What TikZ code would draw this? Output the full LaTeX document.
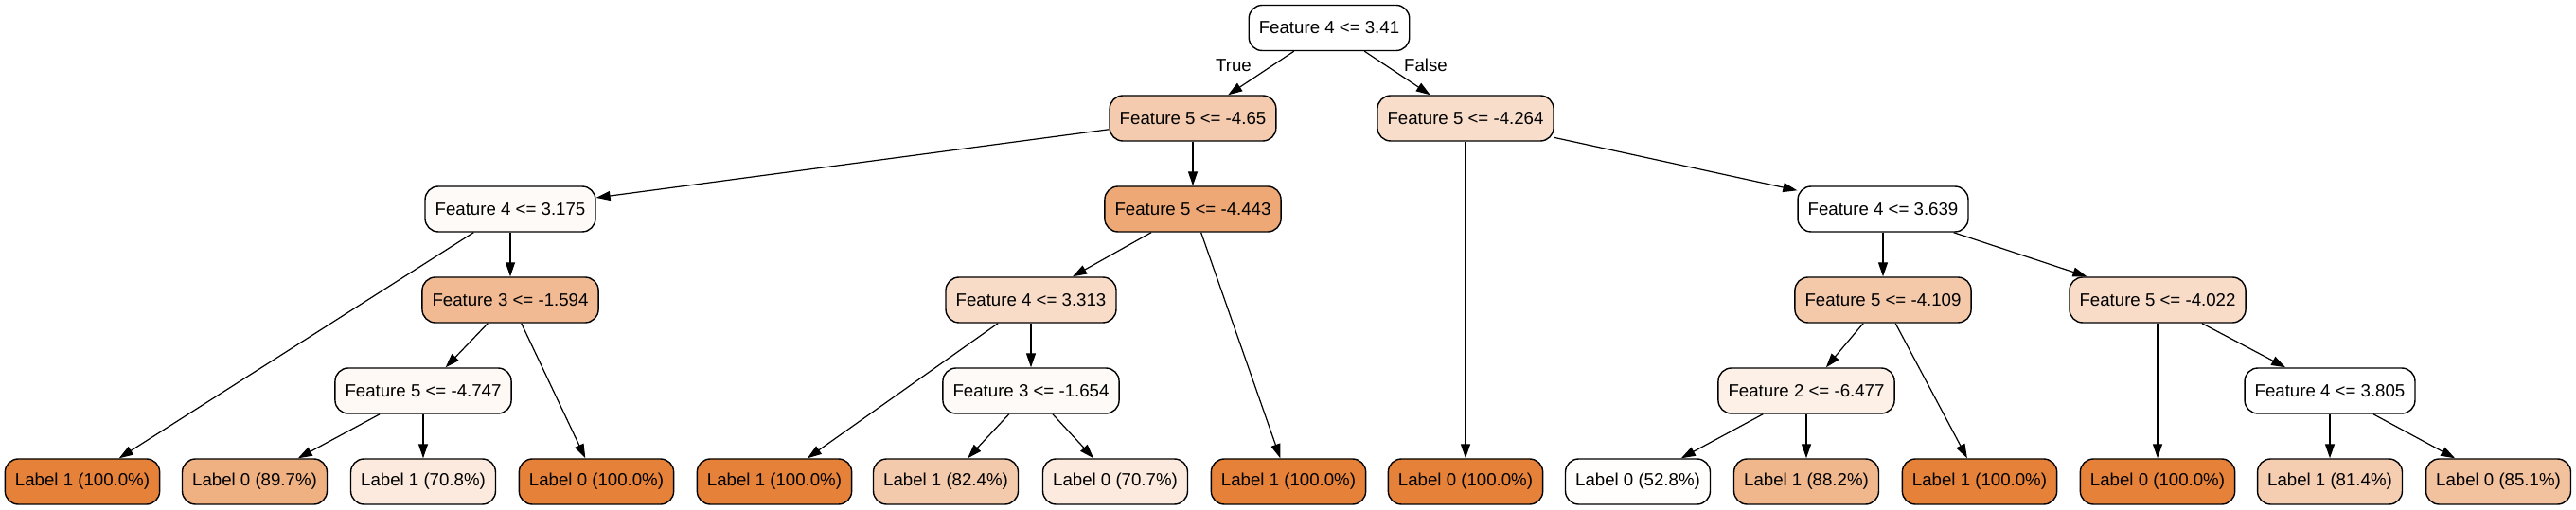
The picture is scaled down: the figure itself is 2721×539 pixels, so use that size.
\documentclass[tikz,border=0pt]{standalone}
\usepackage{fontspec}
\setmainfont{Liberation Sans}
\usetikzlibrary{arrows.meta}
\definecolor{org}{HTML}{E58139}
\tikzset{
 tn/.style={draw=black, line width=0.7pt, rounded corners=7pt, minimum height=24pt, inner xsep=5.3pt, inner ysep=0pt, font=\fontsize{9.33}{11}\selectfont, fill=org!#1!white},
 ed/.style={-{Triangle[length=7.5pt,width=5pt]}, line width=0.6pt},
 elab/.style={font=\fontsize{9.33}{11}\selectfont, inner sep=0pt}
}
\begin{document}
\begin{tikzpicture}[x=0.5pt,y=-0.5pt]
\useasboundingbox (0,0) rectangle (2721,539);
% internal nodes
\node[tn=0]  (r)   at (1404,29.5) {Feature 4 <= 3.41};
\node[tn=41] (n1)  at (1260,125) {Feature 5 <= -4.65};
\node[tn=27] (n2)  at (1548,125) {Feature 5 <= -4.264};
\node[tn=4]  (n3)  at (539,221) {Feature 4 <= 3.175};
\node[tn=69] (n4)  at (1260,221) {Feature 5 <= -4.443};
\node[tn=0]  (n5)  at (1989,221) {Feature 4 <= 3.639};
\node[tn=55] (n6)  at (539,317) {Feature 3 <= -1.594};
\node[tn=28] (n7)  at (1089,317) {Feature 4 <= 3.313};
\node[tn=43] (n8)  at (1989,317) {Feature 5 <= -4.109};
\node[tn=28] (n9)  at (2279,317) {Feature 5 <= -4.022};
\node[tn=5]  (n10) at (447,413) {Feature 5 <= -4.747};
\node[tn=4]  (n11) at (1089,413) {Feature 3 <= -1.654};
\node[tn=12] (n12) at (1908,413) {Feature 2 <= -6.477};
\node[tn=0]  (n13) at (2461,413) {Feature 4 <= 3.805};
% leaves
\node[tn=100] (L1)  at (87,509)   {Label 1 (100.0\%)};
\node[tn=63]  (L2)  at (269,509)  {Label 0 (89.7\%)};
\node[tn=17]  (L3)  at (447,509)  {Label 1 (70.8\%)};
\node[tn=100] (L4)  at (630,509)  {Label 0 (100.0\%)};
\node[tn=100] (L5)  at (818,509)  {Label 1 (100.0\%)};
\node[tn=42]  (L6)  at (999,509)  {Label 1 (82.4\%)};
\node[tn=17]  (L7)  at (1178,509) {Label 0 (70.7\%)};
\node[tn=100] (L8)  at (1361,509) {Label 1 (100.0\%)};
\node[tn=100] (L9)  at (1548,509) {Label 0 (100.0\%)};
\node[tn=1]   (L10) at (1730,509) {Label 0 (52.8\%)};
\node[tn=58]  (L11) at (1908,509) {Label 1 (88.2\%)};
\node[tn=100] (L12) at (2091,509) {Label 1 (100.0\%)};
\node[tn=100] (L13) at (2279,509) {Label 0 (100.0\%)};
\node[tn=39]  (L14) at (2461,509) {Label 1 (81.4\%)};
\node[tn=49]  (L15) at (2639,509) {Label 0 (85.1\%)};
% edge labels
\node[elab] (tlab) at (1303,69) {True};
\node[elab] (flab) at (1506,69) {False};
% edges
\draw[ed] (r) -- (n1);
\draw[ed] (r) -- (n2);
\draw[ed] (n1) -- (n3);
\draw[ed] (n1) -- (n4);
\draw[ed] (n2) -- (L9);
\draw[ed] (n2) -- (n5);
\draw[ed] (n3) -- (L1);
\draw[ed] (n3) -- (n6);
\draw[ed] (n6) -- (n10);
\draw[ed] (n6) -- (L4);
\draw[ed] (n10) -- (L2);
\draw[ed] (n10) -- (L3);
\draw[ed] (n4) -- (n7);
\draw[ed] (n4) -- (L8);
\draw[ed] (n7) -- (L5);
\draw[ed] (n7) -- (n11);
\draw[ed] (n11) -- (L6);
\draw[ed] (n11) -- (L7);
\draw[ed] (n5) -- (n8);
\draw[ed] (n5) -- (n9);
\draw[ed] (n8) -- (n12);
\draw[ed] (n8) -- (L12);
\draw[ed] (n12) -- (L10);
\draw[ed] (n12) -- (L11);
\draw[ed] (n9) -- (L13);
\draw[ed] (n9) -- (n13);
\draw[ed] (n13) -- (L14);
\draw[ed] (n13) -- (L15);
\end{tikzpicture}
\end{document}
